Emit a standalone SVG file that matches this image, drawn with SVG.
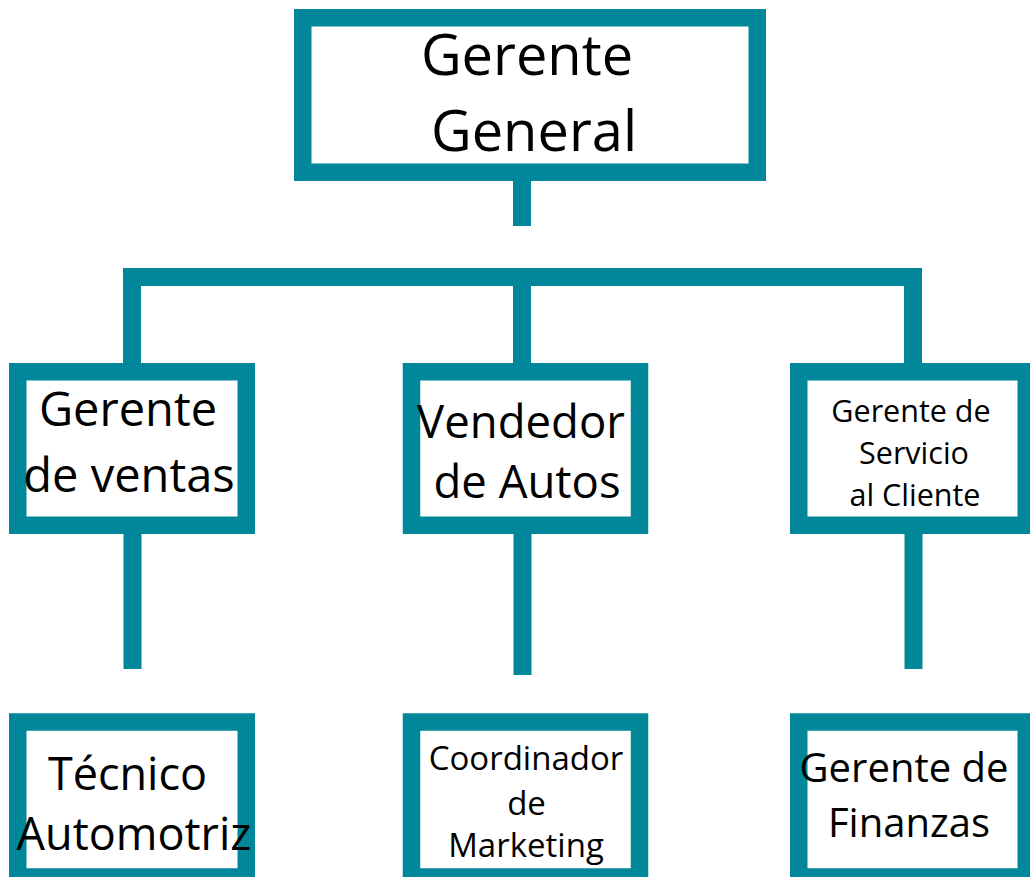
<svg xmlns="http://www.w3.org/2000/svg" width="1030" height="877" viewBox="0 0 1030 877">
<style>
.box{fill:#ffffff;stroke:#00889a;stroke-width:17.5}
.ln{fill:none;stroke:#00889a;stroke-width:18;stroke-linecap:butt;stroke-linejoin:miter}
text{font-family:"Open Sans","Noto Sans","DejaVu Sans",sans-serif;fill:#000;text-anchor:middle}
</style>
<rect width="1030" height="877" fill="#ffffff"/>
<g id="connectors">
<path class="ln" d="M522,181 V226"/>
<path class="ln" d="M132,363 V277 H913 V363"/>
<path class="ln" d="M522,277 V363"/>
<path class="ln" d="M132.5,534 V669"/>
<path class="ln" d="M522.5,534 V675"/>
<path class="ln" d="M913.5,534 V669"/>
</g>
<g id="gerente-general">
<rect class="box" x="302.75" y="17.75" width="454.5" height="154.5"/>
<text x="527" y="75" font-size="56">Gerente</text>
<text x="534" y="150.5" font-size="56">General</text>
</g>
<g id="gerente-ventas">
<rect class="box" x="17.75" y="371.75" width="228.5" height="153.5"/>
<text x="128" y="426" font-size="47">Gerente</text>
<text x="129" y="491.5" font-size="47">de ventas</text>
</g>
<g id="vendedor-autos">
<rect class="box" x="411.5" y="371.75" width="228" height="153.5"/>
<text x="521" y="437.5" font-size="45.5">Vendedor</text>
<text x="527" y="497.5" font-size="45.5">de Autos</text>
</g>
<g id="gerente-servicio">
<rect class="box" x="798.75" y="371.75" width="227.5" height="153.5"/>
<text x="911" y="421.5" font-size="30.5">Gerente de</text>
<text x="914" y="463.5" font-size="30.5">Servicio</text>
<text x="915" y="505.5" font-size="30.5">al Cliente</text>
</g>
<g id="tecnico-automotriz">
<rect class="box" x="17.75" y="722" width="228.5" height="155"/>
<text x="127.5" y="789.5" font-size="45">Técnico</text>
<text x="134" y="850" font-size="45">Automotriz</text>
</g>
<g id="coordinador-marketing">
<rect class="box" x="411.5" y="722" width="228" height="155"/>
<text x="526" y="769.5" font-size="33">Coordinador</text>
<text x="526.5" y="815" font-size="33">de</text>
<text x="526" y="857" font-size="33">Marketing</text>
</g>
<g id="gerente-finanzas">
<rect class="box" x="798.75" y="722" width="227.5" height="155"/>
<text x="904" y="781.5" font-size="40">Gerente de</text>
<text x="909" y="836.5" font-size="40">Finanzas</text>
</g>
</svg>
